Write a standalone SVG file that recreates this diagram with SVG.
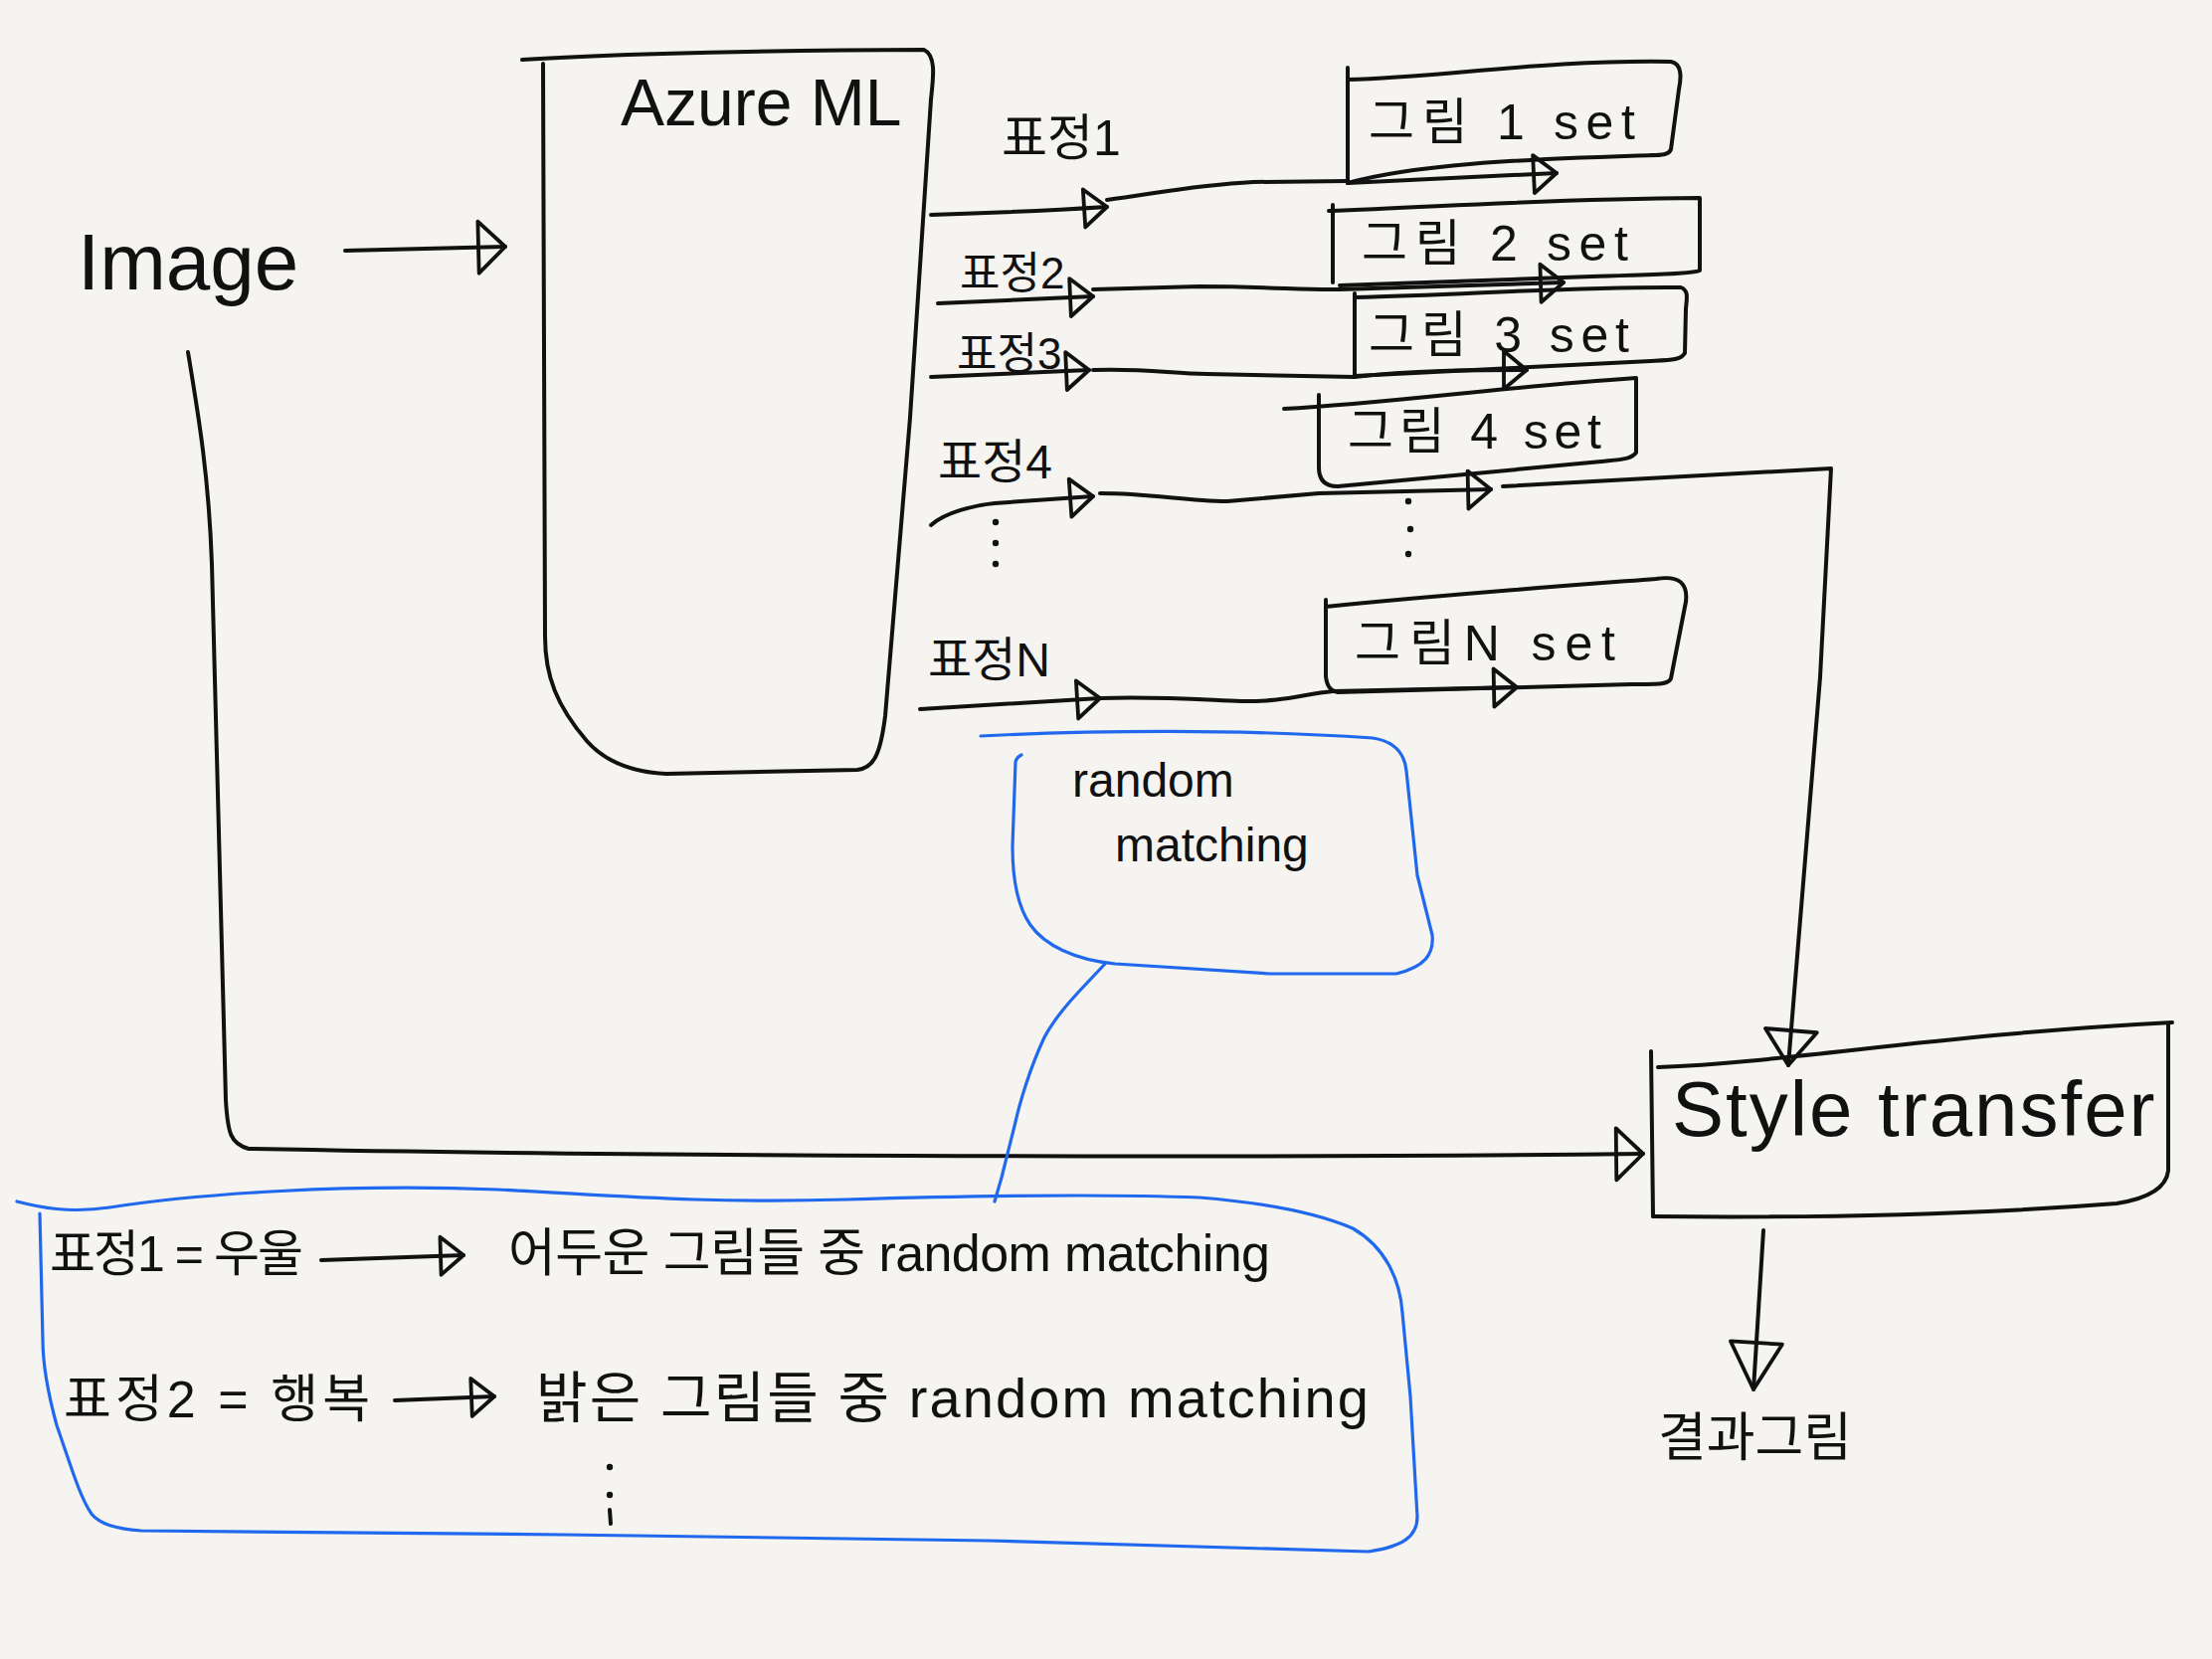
<svg xmlns="http://www.w3.org/2000/svg" width="2224" height="1668" viewBox="0 0 2224 1668">
<style>
.bg{fill:#f5f4f0}
.ln{fill:none;stroke:#111;stroke-width:4;stroke-linecap:round;stroke-linejoin:round}
.bl{fill:none;stroke:#2068ee;stroke-width:3.2;stroke-linecap:round;stroke-linejoin:round}
.tx{font-family:"Liberation Sans","Noto Sans CJK KR",sans-serif;fill:#111}
.dot{fill:#111}
</style>
<defs>
<marker id="ms" markerUnits="userSpaceOnUse" markerWidth="28" markerHeight="42" viewBox="0 0 28 42" refX="25" refY="21" orient="auto" style="overflow:visible"><path d="M2,2 L25,21 L2,40 Z" fill="none" stroke="#111" stroke-width="3.8" stroke-linejoin="round"/></marker>
<marker id="mt" markerUnits="userSpaceOnUse" markerWidth="32" markerHeight="56" viewBox="0 0 32 56" refX="29" refY="28" orient="auto" style="overflow:visible"><path d="M2,2 L29,28 L2,54 Z" fill="none" stroke="#111" stroke-width="3.8" stroke-linejoin="round"/></marker>
<marker id="md" markerUnits="userSpaceOnUse" markerWidth="40" markerHeight="56" viewBox="0 0 40 56" refX="37" refY="28" orient="auto" style="overflow:visible"><path d="M2,2 L37,28 L2,54 Z" fill="none" stroke="#111" stroke-width="3.8" stroke-linejoin="round"/></marker>
<marker id="mr" markerUnits="userSpaceOnUse" markerWidth="52" markerHeight="56" viewBox="0 0 52 56" refX="49" refY="28" orient="auto" style="overflow:visible"><path d="M2,2 L49,28 L2,54 Z" fill="none" stroke="#111" stroke-width="3.8" stroke-linejoin="round"/></marker>
</defs>
<rect class="bg" x="0" y="0" width="2224" height="1668"/>

<g id="azure-ml">
<path class="ln" d="M525,60 C620,54 800,50 929,50 C942,56 938,80 936,100 L915,420 L890,720 C885,760 878,772 862,774 L670,778 C630,776 605,762 590,745 C560,710 548,680 548,640 L546,64"/>
<text class="tx" x="624" y="126" font-size="66">Azure ML</text>
</g>

<g id="image">
<text class="tx" x="78" y="291" font-size="80">Image</text>
</g>

<g id="set-1">
<path class="ln" d="M1355,68 L1355,184"/>
<path class="ln" d="M1355,80 C1450,78 1550,60 1680,62 C1692,64 1690,80 1688,90 L1680,150 C1678,156 1670,156 1660,156"/>
<path class="ln" d="M1355,184 C1420,166 1520,160 1668,156"/>
<text class="tx" x="1376" y="140" font-size="50" textLength="268" lengthAdjust="spacing">그림 1 set</text>
</g>
<g id="set-2">
<path class="ln" d="M1340,206 L1340,284"/>
<path class="ln" d="M1336,212 C1450,208 1550,200 1709,199 L1709,272 C1700,276 1650,276 1600,278 L1347,287"/>
<text class="tx" x="1369" y="262" font-size="50" textLength="268" lengthAdjust="spacing">그림 2 set</text>
</g>
<g id="set-3">
<path class="ln" d="M1362,295 L1362,378"/>
<path class="ln" d="M1362,299 C1480,296 1580,288 1690,289 C1698,292 1696,300 1695,310 L1694,355 C1690,362 1680,362 1660,363 L1362,378"/>
<text class="tx" x="1376" y="354" font-size="50" textLength="262" lengthAdjust="spacing">그림 3 set</text>
</g>
<g id="set-4">
<path class="ln" d="M1291,411 C1400,405 1500,390 1645,380 L1645,455 C1640,462 1630,462 1610,464 L1345,489 C1330,489 1326,480 1326,470 L1326,397"/>
<text class="tx" x="1355" y="451" font-size="50" textLength="255" lengthAdjust="spacing">그림 4 set</text>
</g>
<g id="set-n">
<path class="ln" d="M1333,610 C1450,598 1560,590 1665,582 C1690,578 1697,588 1695,605 L1680,682 C1678,688 1670,688 1640,688 L1345,696 C1336,694 1334,688 1333,680 L1333,603"/>
<text class="tx" x="1362" y="664" font-size="50" textLength="262" lengthAdjust="spacing">그림N set</text>
</g>

<g id="labels">
<text class="tx" x="1007" y="156" font-size="50">표정1</text>
<text class="tx" x="965" y="290" font-size="44">표정2</text>
<text class="tx" x="962" y="371" font-size="44">표정3</text>
<text class="tx" x="943" y="481" font-size="48">표정4</text>
<text class="tx" x="933" y="680" font-size="48">표정N</text>
<circle class="dot" cx="1001" cy="525" r="3.2"/>
<circle class="dot" cx="1001" cy="546" r="3.2"/>
<circle class="dot" cx="1001" cy="567" r="3.2"/>
<circle class="dot" cx="1416" cy="504" r="3.2"/>
<circle class="dot" cx="1418" cy="532" r="3.2"/>
<circle class="dot" cx="1416" cy="557" r="3.2"/>
</g>

<g id="style-transfer">
<path class="ln" d="M1660,1057 L1662,1223"/>
<path class="ln" d="M1667,1073 C1800,1068 1950,1040 2184,1028"/>
<path class="ln" d="M2180,1030 L2180,1177 C2178,1195 2160,1205 2128,1210 C2000,1220 1850,1225 1662,1223"/>
<text class="tx" x="1681" y="1142" font-size="78" letter-spacing="2">Style transfer</text>
</g>

<g id="result">
<text class="tx" x="1667" y="1464" font-size="53">결과그림</text>
</g>

<g id="random-matching">
<path class="bl" d="M986,740 C1100,734 1250,733 1380,742 C1400,745 1412,755 1414,775 L1425,880 L1440,940 C1442,960 1432,972 1404,979 L1277,979 L1121,969 C1080,965 1050,950 1036,930 C1022,910 1018,880 1018,851 L1021,766 C1022,762 1025,760 1027,759"/>
<text class="tx" x="1078" y="801" font-size="48">random</text>
<text class="tx" x="1121" y="866" font-size="48">matching</text>
</g>

<g id="examples">
<path class="bl" d="M17,1208 C40,1214 70,1220 110,1214 C200,1200 350,1190 500,1196 C620,1202 700,1210 851,1206 C950,1203 1100,1200 1206,1204 C1280,1210 1330,1222 1360,1235 C1395,1255 1408,1290 1410,1320 L1418,1404 L1425,1525 C1425,1545 1410,1555 1376,1560 L993,1549 L567,1543 L142,1539 C115,1537 100,1532 92,1522 C80,1505 70,1470 57,1433 C48,1400 43,1370 43,1347 L40,1220"/>
<text class="tx" x="50" y="1278" font-size="50" textLength="255" lengthAdjust="spacing">표정1 = 우울</text>
<path class="ln" d="M323,1267 C360,1266 400,1264 466,1262" marker-end="url(#ms)"/>
<text class="tx" x="511" y="1278" font-size="52" textLength="766" lengthAdjust="spacing">어두운 그림들 중 random matching</text>
<text class="tx" x="64" y="1425" font-size="52" textLength="308" lengthAdjust="spacing">표정2 = 행복</text>
<path class="ln" d="M397,1408 L497,1404" marker-end="url(#ms)"/>
<text class="tx" x="539" y="1425" font-size="56" textLength="837" lengthAdjust="spacing">밝은 그림들 중 random matching</text>
<circle class="dot" cx="613" cy="1475" r="3.2"/>
<circle class="dot" cx="613" cy="1503" r="3.2"/>
<path class="ln" d="M613,1518 L614,1532"/>
</g>

<g id="connectors">
<path class="ln" d="M347,252 L508,248" marker-end="url(#mt)"/>
<path class="ln" d="M189,354 C200,420 210,480 213,567 L227,1106 C229,1140 232,1150 250,1155 C600,1162 1200,1165 1652,1160" marker-end="url(#mt)"/>
<path class="ln" d="M936,216 C1000,214 1050,212 1113,208" marker-end="url(#ms)"/>
<path class="ln" d="M1113,201 C1160,195 1200,186 1260,183 L1355,182"/>
<path class="ln" d="M1355,184 L1565,174" marker-end="url(#ms)"/>
<path class="ln" d="M943,305 L1099,298" marker-end="url(#ms)"/>
<path class="ln" d="M1099,291 L1206,288 C1280,288 1310,292 1347,291"/>
<path class="ln" d="M1347,291 L1572,284" marker-end="url(#ms)"/>
<path class="ln" d="M936,379 L1095,372" marker-end="url(#ms)"/>
<path class="ln" d="M1099,372 C1150,370 1180,376 1213,376 L1362,379"/>
<path class="ln" d="M1362,379 C1420,372 1480,372 1535,372" marker-end="url(#ms)"/>
<path class="ln" d="M936,528 C950,515 980,508 1000,506 L1099,499" marker-end="url(#ms)"/>
<path class="ln" d="M1106,496 C1160,496 1190,504 1234,504 L1326,496"/>
<path class="ln" d="M1326,496 L1499,492" marker-end="url(#ms)"/>
<path class="ln" d="M1511,489 L1841,471 L1830,681 L1798,1071" marker-end="url(#md)"/>
<path class="ln" d="M925,713 L1106,702" marker-end="url(#ms)"/>
<path class="ln" d="M1106,702 C1160,700 1200,703 1248,705 C1290,706 1310,698 1340,695"/>
<path class="ln" d="M1340,695 L1525,691" marker-end="url(#ms)"/>
<path class="ln" d="M1773,1237 L1763,1397" marker-end="url(#mr)"/>
<path class="bl" d="M1111,969 C1090,992 1065,1015 1050,1043 C1035,1075 1025,1110 1021,1128 L1007,1184 L1000,1208"/>
</g>
</svg>
